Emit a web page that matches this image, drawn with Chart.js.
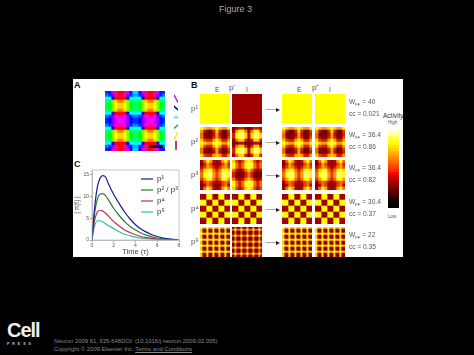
<!DOCTYPE html>
<html>
<head>
<meta charset="utf-8">
<script src="https://cdn.jsdelivr.net/npm/chart.js@4/dist/chart.umd.js"></script>
<style>
  html, body { margin: 0; padding: 0; background: #000; }
  body { position: relative; width: 474px; height: 355px; overflow: hidden; font-family: "Liberation Sans", sans-serif; }
  #sheet { position: absolute; left: 73px; top: 79px; width: 330px; height: 178px; background: #fff; }
  canvas { position: absolute; display: block; }
  canvas.soft { filter: blur(0.7px); }
  .t { position: absolute; white-space: nowrap; color: #444; line-height: 1; }
  .t sub { font-size: 65%; line-height: 0; }
  .letter { font-weight: bold; font-size: 9px; color: #111; }
  .row { font-size: 8px; color: #555; }
  .stat { font-size: 6.6px; color: #555; }
  .shaft { position: absolute; width: 10px; height: 1px; background: #aaa; }
  .head { position: absolute; width: 0; height: 0; border-left: 4px solid #222; border-top: 2px solid transparent; border-bottom: 2px solid transparent; }
  .foot { color: #8a8a8a; font-size: 5.9px; }
</style>
</head>
<body>
<div id="sheet"></div>
<div class="t" style="left:219px;top:5px;font-size:9px;color:#aaa">Figure 3</div>

<div class="t letter" style="left:74px;top:81px">A</div>
<div class="t letter" style="left:191px;top:81px">B</div>
<div class="t letter" style="left:74px;top:160px">C</div>

<div class="t" style="left:215px;top:87px;font-size:6.5px">E</div>
<div class="t row" style="left:229px;top:84px">p⁻</div>
<div class="t" style="left:246px;top:87px;font-size:6.5px">I</div>
<div class="t" style="left:297px;top:87px;font-size:6.5px">E</div>
<div class="t row" style="left:312px;top:84px">p⁺</div>
<div class="t" style="left:329px;top:87px;font-size:6.5px">I</div>

<div class="t" style="left:148px;top:140px;font-size:4px;color:#222">1 mm</div>

<div class="t" style="left:383px;top:113px;font-size:6.5px;color:#333">Activity</div>
<div class="t" style="left:388px;top:121px;font-size:4.5px;color:#555">High</div>
<div class="t" style="left:388px;top:215px;font-size:4.5px;color:#555">Low</div>

<div class="t" style="left:7px;top:320px;font-size:20px;font-weight:bold;letter-spacing:-1px;color:#eee">Cell</div>
<div class="t" style="left:7px;top:343px;font-size:3.5px;font-weight:bold;letter-spacing:3px;color:#ccc">PRESS</div>
<div class="t foot" style="left:54px;top:339px"><i>Neuron</i> 2009 61, 635-648DOI: (10.1016/j.neuron.2009.02.005)</div>
<div class="t foot" style="left:54px;top:347px">Copyright © 2009 Elsevier Inc. <u>Terms and Conditions</u></div>

<script>
// panel C
const timeAxis = [0, 0.1, 0.25, 0.5, 0.75, 1, 1.25, 1.5, 2, 2.5, 3, 3.5, 4, 4.5, 5, 5.5, 6, 7, 8];
const curveP1 = [0, 3.2, 7.6, 12.2, 14.2, 14.7, 14.4, 12.9, 10.4, 8.3, 6.4, 4.8, 3.5, 2.5, 1.8, 1.2, 0.8, 0.25, 0.05];
const curveP23 = [0, 2.8, 6.3, 9.4, 10.5, 10.6, 10.1, 9.2, 7.2, 5.6, 4.2, 3.1, 2.3, 1.6, 1.1, 0.7, 0.45, 0.15, 0.03];
const curveP4 = [0, 2.2, 4.6, 6.4, 6.8, 6.6, 6.1, 5.5, 4.2, 3.2, 2.3, 1.7, 1.2, 0.8, 0.55, 0.35, 0.2, 0.07, 0.01];
const curveP5 = [0, 1.7, 3.3, 4.4, 4.4, 4.1, 3.7, 3.3, 2.6, 1.9, 1.3, 0.95, 0.65, 0.45, 0.3, 0.18, 0.1, 0.03, 0];
const curveLabels = ['p¹', 'p² / p³', 'p⁴', 'p⁵'];
const xTicks = [0, 2, 4, 6, 8];
const yTicks = [0, 5, 10, 15];

// panel A, orientation per cell in base 36 tens of degrees
const orientationMap = [
  'nptx00xtpjjptx00xtpn',
  'lnrwzzwrnkknrwzzwrnl',
  'iio0000oiiiio0000oii',
  'fe953359effe953359ef',
  'ec965569ceec965569ce',
  'ec965569ceec965569ce',
  'fe953359effe953359ef',
  'iio0000oiiiio0000oii',
  'lnruwwurnllnruwwurnl',
  'nortuutronnortuutron',
  'nortuutronnortuutron',
  'lnruwwurnllnruwwurnl',
  'iio0000oiiiio0000oii',
  'fe953359effe953359ef',
  'ec965569ceec965569ce',
  'ec965569ceec965569ce',
  'fe953359effe953359ef',
  'iio0000oiiiio0000oii',
  'lnrwzzwrnkknrwzzwrnl',
  'nptx00xtpjjptx00xtpn'
];
const orientationAngles = [63, 40, 0, -38, -63, 90];
const orientationColors = ['#d020c8', '#101080', '#30e0f0', '#30b030', '#f0f020', '#b01020'];

// panel B, activity per cell 0 (low) to 9 (high)
const p1E = ['8888888888', '8888888888', '8888888888', '8888888888', '8888888888', '8888888888', '8888888888', '8888888888', '8888888888', '8888888888'];
const p1I = ['1111111111', '1111111111', '1111111111', '1111111111', '1111111111', '1111111111', '1111111111', '1111111111', '1111111111', '1111111111'];
const p2E = [
  '8766787668',
  '6200373004',
  '5000262003',
  '5100363004',
  '7433686336',
  '8766898668',
  '7433686336',
  '5100363004',
  '5000262003',
  '7433676336'
];
const p2I = [
  '0133101331',
  '1688515884',
  '3899727997',
  '3899727997',
  '1577303773',
  '0122000220',
  '1577303773',
  '3899727997',
  '3899727997',
  '1577303773'
];
const p3E = [
  '1586212685',
  '0364101463',
  '2465313564',
  '4788535887',
  '5899646998',
  '5899646998',
  '4688535886',
  '1454212454',
  '0254101452',
  '1586212685'
];
const p3I = [
  '7424787424',
  '8535898535',
  '8535898535',
  '5212575212',
  '3000353000',
  '3000353000',
  '5212575212',
  '8535898535',
  '8535898535',
  '7424787424'
];
const p4 = [
  '1188118811',
  '1188118811',
  '8811881188',
  '8811881188',
  '1188118811',
  '1188118811',
  '8811881188',
  '8811881188',
  '1188118811',
  '1188118811'
];
const p5E = [
  '977977977977977',
  '701701701701701',
  '710710710710710',
  '977977977977977',
  '701701701701701',
  '710710710710710',
  '977977977977977',
  '701701701701701',
  '710710710710710',
  '977977977977977',
  '701701701701701',
  '710710710710710',
  '977977977977977',
  '701701701701701',
  '710710710710710'
];
const p5I = [
  '050050050050050',
  '595595595595595',
  '050050050050050',
  '050050050050050',
  '595595595595595',
  '050050050050050',
  '050050050050050',
  '595595595595595',
  '050050050050050',
  '050050050050050',
  '595595595595595',
  '050050050050050',
  '050050050050050',
  '595595595595595',
  '050050050050050'
];
const rowGrids = [
  [p1E, p1I, p1E, p1E],
  [p2E, p2I, p2E, p2E],
  [p3E, p3I, p3E, p3E],
  [p4, p4, p4, p4],
  [p5E, p5I, p5E, p5E]
];
const rowNames = ['p¹', 'p²', 'p³', 'p⁴', 'p⁵'];
const feedforward = ['40', '36.4', '36.4', '30.4', '22'];
const correlations = ['0.021', '0.86', '0.82', '0.37', '0.35'];

const heatPalette = ['#7a0000', '#a00000', '#bc0a00', '#d22000', '#e64000', '#f57000', '#fca000', '#ffd000', '#ffff00', '#ffff70'];
const colorbarShades = ['#ffffd0', '#ffffa0', '#ffff60', '#ffff20', '#ffff00', '#ffe800', '#ffd000', '#ffb800', '#ffa000', '#ff8800',
  '#ff7000', '#ff5800', '#ff4000', '#ff2800', '#f01000', '#d80000', '#c00000', '#a80000', '#900000', '#780000',
  '#600000', '#480000', '#300000', '#180000', '#080000', '#000000'];

// layout
const panelLefts = [200, 232, 282, 315];
const panelTops = [94, 127, 160, 194, 227];
const panelSize = 30;

function addCanvas(left, top, w, h, soft) {
  const c = document.createElement('canvas');
  c.width = w;
  c.height = h;
  c.style.left = left + 'px';
  c.style.top = top + 'px';
  c.style.width = w + 'px';
  c.style.height = h + 'px';
  if (soft) c.className = 'soft';
  document.body.appendChild(c);
  return c;
}

// every cell is one segment of a stacked horizontal bar
function cellChart(canvas, rows, colorOf) {
  const cols = rows[0].length;
  const datasets = [];
  for (let col = 0; col < cols; col++) {
    datasets.push({
      data: rows.map(() => 1),
      backgroundColor: rows.map(r => colorOf(r[col])),
      borderWidth: 0,
      barPercentage: 1,
      categoryPercentage: 1
    });
  }
  return new Chart(canvas, {
    type: 'bar',
    data: { labels: rows.map((r, i) => i), datasets: datasets },
    options: {
      indexAxis: 'y',
      responsive: false,
      animation: false,
      devicePixelRatio: 1,
      layout: { padding: 0 },
      plugins: { legend: { display: false }, tooltip: { enabled: false } },
      scales: {
        x: { display: false, stacked: true, min: 0, max: cols },
        y: { display: false, stacked: true }
      }
    }
  });
}

cellChart(addCanvas(105, 91, 60, 60, true), orientationMap, ch => 'hsl(' + parseInt(ch, 36) * 10 + ',100%,50%)');

rowGrids.forEach((grids, r) => {
  grids.forEach((grid, c) => {
    cellChart(addCanvas(panelLefts[c], panelTops[r], panelSize, panelSize, true), grid, ch => heatPalette[+ch]);
  });
});

cellChart(addCanvas(388, 130, 11, 78, true), colorbarShades.map(s => [s]), s => s);

// row labels, arrows and statistics
rowNames.forEach((name, r) => {
  const y = panelTops[r];
  document.body.insertAdjacentHTML('beforeend',
    '<div class="t row" style="left:191px;top:' + (y + 11) + 'px">' + name + '</div>' +
    '<div class="shaft" style="left:266px;top:' + (y + 15) + 'px"></div>' +
    '<div class="head" style="left:276px;top:' + (y + 13.5) + 'px"></div>' +
    '<div class="t stat" style="left:349px;top:' + (y + 5) + 'px">W<sub>FF</sub> = ' + feedforward[r] + '</div>' +
    '<div class="t stat" style="left:349px;top:' + (y + 17) + 'px">cc = ' + correlations[r] + '</div>');
});

// scale bar of panel A
new Chart(addCanvas(149, 145, 14, 3, false), {
  type: 'bar',
  data: { labels: ['bar'], datasets: [{ data: [1], backgroundColor: '#111', barPercentage: 1, categoryPercentage: 1 }] },
  options: {
    indexAxis: 'y', responsive: false, animation: false, devicePixelRatio: 1,
    plugins: { legend: { display: false }, tooltip: { enabled: false } },
    scales: { x: { display: false, min: 0, max: 1 }, y: { display: false } }
  }
});

// orientation key next to panel A
new Chart(addCanvas(168, 88, 16, 68, false), {
  type: 'scatter',
  data: {
    datasets: [{
      data: orientationAngles.map((a, i) => ({ x: 0, y: i })),
      pointStyle: 'line',
      pointRotation: orientationAngles,
      pointRadius: 4.5,
      pointBorderWidth: 1.6,
      pointBorderColor: orientationColors,
      pointBackgroundColor: orientationColors
    }]
  },
  options: {
    responsive: false, animation: false, devicePixelRatio: 1,
    layout: { padding: 0 },
    plugins: { legend: { display: false }, tooltip: { enabled: false } },
    scales: {
      x: { display: false, min: -1, max: 1 },
      y: { display: false, reverse: true, min: -0.5, max: 5.5 }
    }
  }
});

// panel C line chart
const frame = {
  id: 'frame',
  afterDraw(chart) {
    const a = chart.chartArea, g = chart.ctx;
    g.save();
    g.strokeStyle = '#bbb';
    g.lineWidth = 0.8;
    g.strokeRect(a.left, a.top, a.right - a.left, a.bottom - a.top);
    g.restore();
  },
  beforeDraw(chart) {
    // keeps the key inside the axes box
    chart.legend.left = chart.chartArea.left + 46;
    chart.legend.top = chart.chartArea.top + 2;
  }
};
const curveColors = ['#1a1a9c', '#2a7d2a', '#c0304a', '#30bfae'];
new Chart(addCanvas(73, 160, 112, 97, true), {
  type: 'line',
  data: {
    labels: timeAxis,
    datasets: [curveP1, curveP23, curveP4, curveP5].map((vals, i) => ({
      label: curveLabels[i],
      data: vals.map((v, j) => ({ x: timeAxis[j], y: v })),
      borderColor: curveColors[i],
      backgroundColor: curveColors[i],
      borderWidth: 1.2,
      pointRadius: 0,
      cubicInterpolationMode: 'monotone'
    }))
  },
  options: {
    responsive: false, animation: false, devicePixelRatio: 1,
    layout: { padding: { top: 10, right: 6, bottom: 0, left: 0 } },
    plugins: {
      tooltip: { enabled: false },
      legend: {
        position: 'chartArea',
        align: 'start',
        labels: {
          usePointStyle: true,
          pointStyle: 'line',
          pointStyleWidth: 12,
          boxHeight: 8,
          padding: 3,
          color: '#333',
          font: { size: 8, family: '"Liberation Sans"' }
        }
      }
    },
    scales: {
      x: {
        type: 'linear', min: 0, max: 8,
        afterBuildTicks: s => { s.ticks = xTicks.map(v => ({ value: v })); },
        grid: { drawOnChartArea: false, tickLength: 2, color: '#999' },
        border: { color: '#bbb' },
        ticks: { color: '#555', padding: 1, font: { size: 5 }, maxRotation: 0 },
        title: { display: true, text: 'Time (τ)', color: '#444', padding: 1, font: { size: 7.5 } },
        afterFit: s => { s.height = 17; }
      },
      y: {
        min: 0, max: 16,
        afterBuildTicks: s => { s.ticks = yTicks.map(v => ({ value: v })); },
        grid: { drawOnChartArea: false, tickLength: 2, color: '#999' },
        border: { color: '#bbb' },
        ticks: { color: '#555', padding: 1, font: { size: 5 } },
        title: { display: true, text: '| π(t) |', color: '#444', padding: 0, font: { size: 6.5 } },
        afterFit: s => { s.width = 19; }
      }
    }
  },
  plugins: [frame]
});
</script>
</body>
</html>
